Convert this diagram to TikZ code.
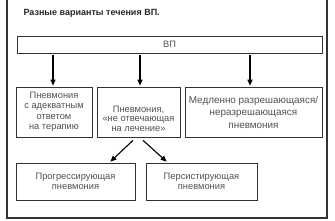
\documentclass[tikz,border=0pt]{standalone}
\usepackage{fontspec}
\setmainfont{Liberation Sans}
\usetikzlibrary{arrows.meta,calc}
\definecolor{txt}{HTML}{505050}
\definecolor{ln}{HTML}{333333}
\begin{document}
\begin{tikzpicture}[x=1pt,y=-1pt,
  boxstyle/.style={draw=ln,line width=0.7pt,inner sep=0pt,text=txt,font=\fontsize{9.3}{10.5}\selectfont,align=center},
  arr/.style={draw=black,line width=1.1pt,-{Triangle[length=6pt,width=5pt]}}]
\useasboundingbox (0,0) rectangle (335,220);
\draw[ln,line width=1.6pt] (7,0) -- (7,218) -- (327,218) -- (327,0);
\node[anchor=west,font=\fontsize{9}{10}\selectfont\bfseries,text=black!85] (title) at (20,13) {Разные варианты течения ВП.};
\node[boxstyle,minimum width=305pt,minimum height=17pt] (vp) at (169.5,44.5) {ВП};
\node[boxstyle,minimum width=76pt,minimum height=50pt] (b1) at (54,112) {Пневмония\\с адекватным\\ответом\\на терапию};
\node[boxstyle,minimum width=83pt,minimum height=50pt,text depth=0pt] (b2) at (138.5,112) {\raisebox{-3pt}{\parbox{80pt}{\centering\fontsize{9.3}{9.3}\selectfont Пневмония,\\«не отвечающая\\на лечение»}}};
\node[boxstyle,minimum width=137pt,minimum height=50pt,font=\fontsize{9.9}{12.5}\selectfont] (b3) at (253.5,112) {Медленно разрешающаяся/\\неразрешающаяся\\пневмония};
\node[boxstyle,minimum width=119pt,minimum height=37pt] (b4) at (75.5,181.5) {Прогрессирующая\\пневмония};
\node[boxstyle,minimum width=111pt,minimum height=37pt] (b5) at (201.5,181.5) {Персистирующая\\пневмония};
\draw[arr] ($(vp.south -| b1)+(-1,1.5)$) -- ($(b1.north)+(-1,-1)$);
\draw[arr] ($(vp.south -| b2)+(1.5,1.5)$) -- ($(b2.north)+(1.5,-1)$);
\draw[arr] ($(vp.south -| b3)+(-3.5,1.5)$) -- ($(b3.north)+(-3.5,-1)$);
\draw[arr] ($(b2.south)+(-5.5,3)$) -- ($(b4.north east)+(-25,-1)$);
\draw[arr] ($(b2.south)+(4.5,3)$) -- ($(b5.north west)+(21,-1)$);
\end{tikzpicture}
\end{document}
